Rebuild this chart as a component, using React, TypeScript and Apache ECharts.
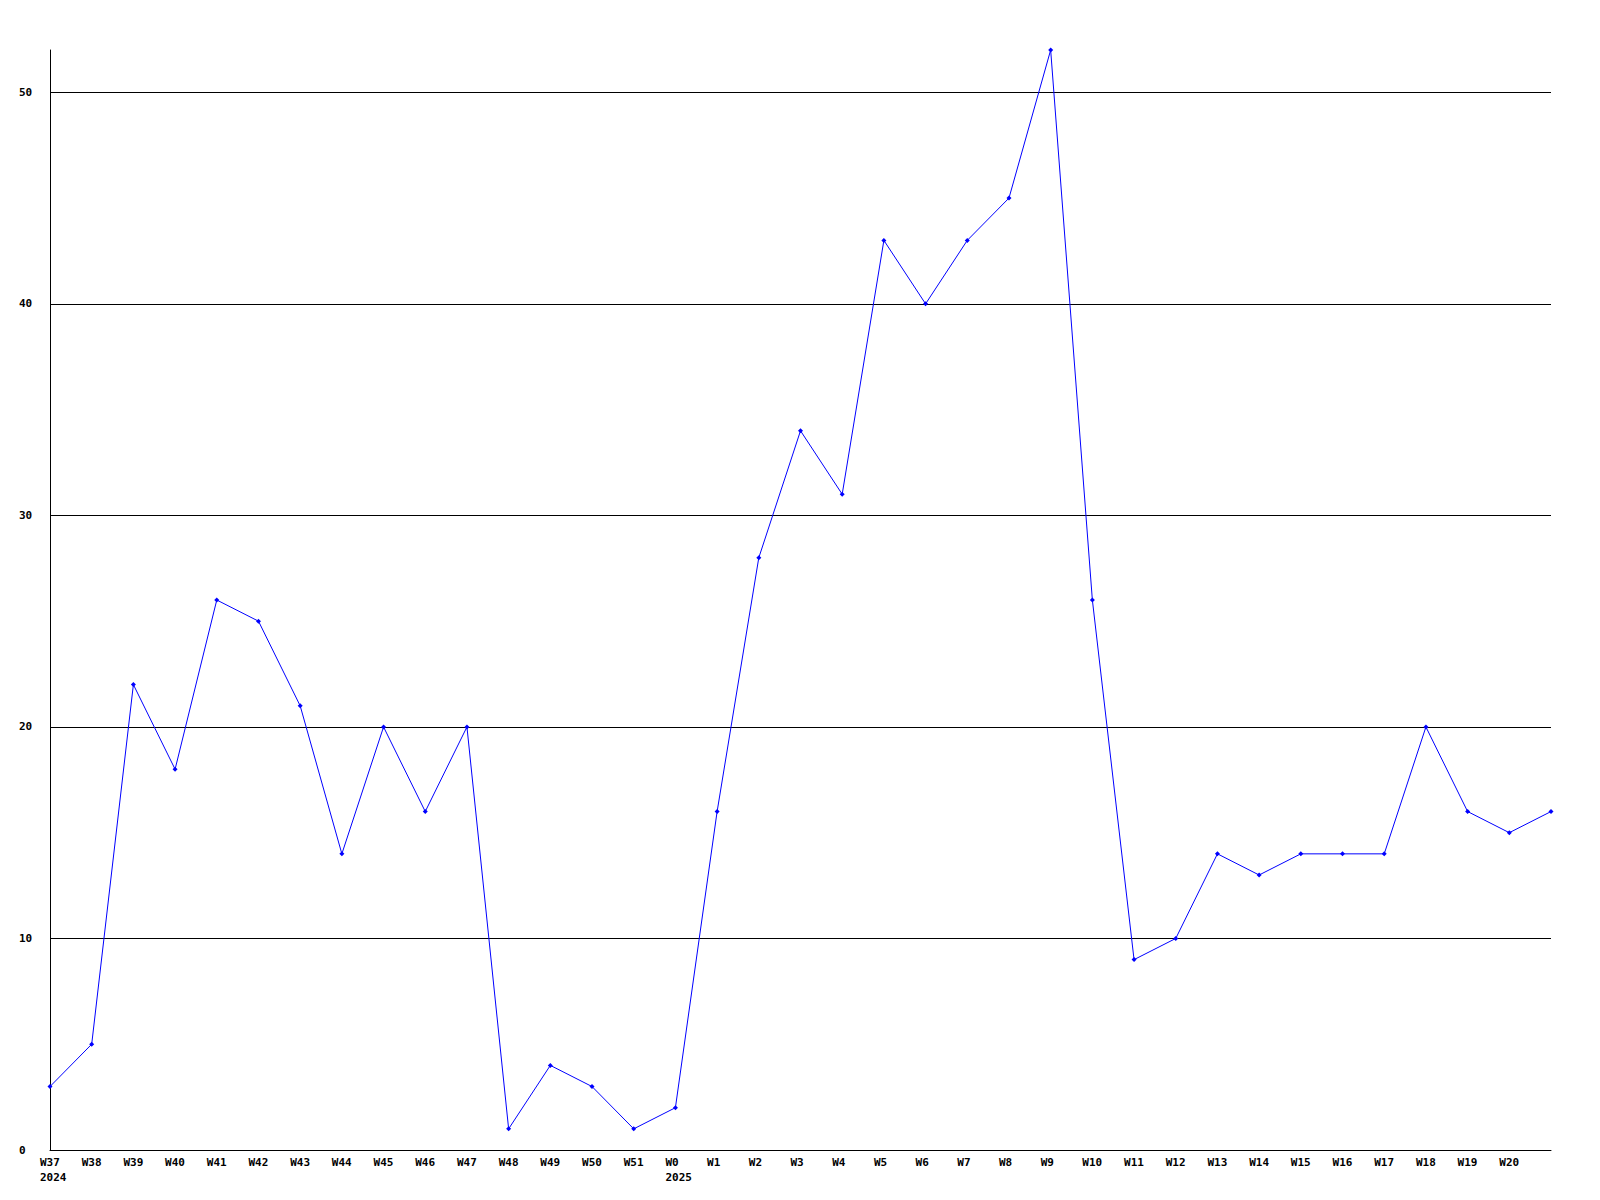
import React, { useEffect, useRef } from "react";
import * as echarts from "echarts";

const weeks = [
  "W37", "W38", "W39", "W40", "W41", "W42", "W43", "W44", "W45", "W46", "W47", "W48",
  "W49", "W50", "W51", "W0", "W1", "W2", "W3", "W4", "W5", "W6", "W7", "W8", "W9",
  "W10", "W11", "W12", "W13", "W14", "W15", "W16", "W17", "W18", "W19", "W20", "W21",
];
const yearMarks: Record<string, string> = { W37: "2024", W0: "2025" };
const values = [
  3, 5, 22, 18, 26, 25, 21, 14, 20, 16, 20, 1,
  4, 3, 1, 2, 16, 28, 34, 31, 43, 40, 43, 45, 52,
  26, 9, 10, 14, 13, 14, 14, 14, 20, 16, 15, 16,
];
const gridValues = [10, 20, 30, 40, 50];
const yMax = 52;

const FONT = "'DejaVu Sans Mono', monospace";

export default function App() {
  const ref = useRef<HTMLDivElement>(null);
  useEffect(() => {
    if (!ref.current) return;
    const chart = echarts.init(ref.current, undefined, { renderer: "svg" });
    const rt = { width: 20, align: "left", fontFamily: FONT, fontWeight: "bold", fontSize: 11, color: "#000", lineHeight: 15 };
    chart.setOption({
      animation: false,
      backgroundColor: "#ffffff",
      grid: { left: 50, top: 50, right: 49, bottom: 50, containLabel: false },
      xAxis: {
        type: "category",
        data: weeks,
        boundaryGap: false,
        axisLine: { show: true, lineStyle: { color: "#000", width: 1 } },
        axisTick: { show: false },
        splitLine: { show: false },
        axisLabel: {
          interval: 0,
          margin: 5,
          color: "#000",
          fontFamily: FONT,
          fontWeight: "bold",
          fontSize: 11,
          lineHeight: 15,
          align: "center",
          rich: { w: rt },
          formatter: (v: string, i: number) => {
            if (i === weeks.length - 1) return "";
            return yearMarks[v] ? `{w|${v}}\n{w|${yearMarks[v]}}` : `{w|${v}}`;
          },
        },
      },
      yAxis: {
        type: "value",
        min: 0,
        max: yMax,
        interval: 10,
        axisLine: { show: true, lineStyle: { color: "#000", width: 1 } },
        axisTick: { show: false },
        splitLine: { show: false },
        axisLabel: {
          align: "left",
          margin: 31,
          color: "#000",
          fontFamily: FONT,
          fontWeight: "bold",
          fontSize: 11,
          formatter: (v: number) => (v % 10 === 0 ? String(v) : ""),
        },
      },
      series: [
        {
          type: "line",
          data: values,
          color: "#0000ff",
          lineStyle: { color: "#0000ff", width: 1 },
          symbol: "diamond",
          symbolSize: 5,
          itemStyle: { color: "#0000ff" },
          showSymbol: true,
          z: 5,
          markLine: {
            silent: true,
            symbol: ["none", "none"],
            label: { show: false },
            lineStyle: { color: "#000", type: "solid", width: 1 },
            data: gridValues.map((g) => ({ yAxis: g })),
            z: 1,
          },
        },
      ],
    });
    return () => chart.dispose();
  }, []);
  return (
    <div
      ref={ref}
      style={{ position: "absolute", left: 0, top: 0, width: 1600, height: 1200 }}
    />
  );
}
